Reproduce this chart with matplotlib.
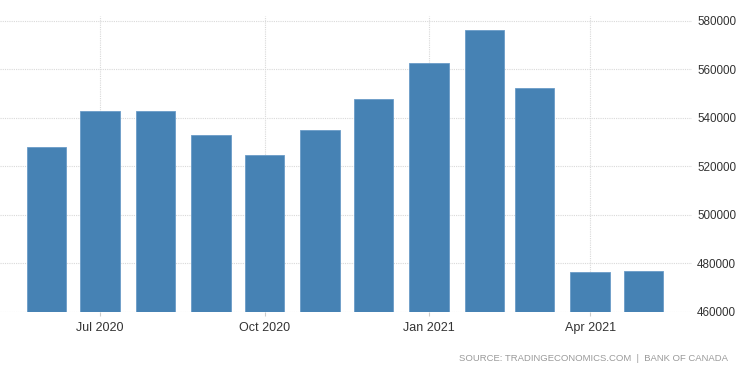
import matplotlib
matplotlib.use("Agg")
import matplotlib.pyplot as plt
import datetime as dt

months = ["2020-06", "2020-07", "2020-08", "2020-09", "2020-10", "2020-11",
          "2020-12", "2021-01", "2021-02", "2021-03", "2021-04", "2021-05"]
values = [528200, 542800, 542800, 533100, 524900, 535100,
          547700, 562800, 576400, 552300, 476400, 476900]
xtick_months = ["2020-07", "2020-10", "2021-01", "2021-04"]
xtick_labels = ["Jul 2020", "Oct 2020", "Jan 2021", "Apr 2021"]
yticks = [460000, 480000, 500000, 520000, 540000, 560000, 580000]

plt.rcParams["font.family"] = ["Liberation Sans", "DejaVu Sans"]

def to_date(s):
    y, m = s.split("-")
    return dt.date(int(y), int(m), 1)

dates = [to_date(m) for m in months]

fig = plt.figure(figsize=(7.5, 3.75), dpi=100)
ax = fig.add_axes([0.0, 1 - 312 / 375, 692 / 750, (312 - 16) / 375])

ax.bar(dates, values, width=22, color="#4682B4", edgecolor="#6a9cc8", linewidth=0.6, zorder=3)

ax.set_ylim(460000, 582000)
ax.set_xlim(dt.date(2020, 5, 6), dt.date(2021, 5, 28))
ax.yaxis.tick_right()
ax.set_yticks(yticks)
ax.set_yticklabels([str(v) for v in yticks])
ax.set_xticks([to_date(m) for m in xtick_months])
ax.set_xticklabels(xtick_labels)

ax.grid(True, color="#d9d9d9", linestyle=(0, (1, 1)), linewidth=0.8, zorder=0)
for s in ax.spines.values():
    s.set_visible(False)
ax.tick_params(axis="y", length=0, pad=3.6, labelsize=8.4, labelcolor="#333333")
ax.tick_params(axis="x", length=3, color="#cccccc", pad=4, labelsize=9, labelcolor="#333333")

fig.text(0.971, 0.043, "SOURCE: TRADINGECONOMICS.COM  |  BANK OF CANADA",
         ha="right", va="center", fontsize=6.8, color="#9a9a9a")

fig.savefig("out.png", dpi=100)
